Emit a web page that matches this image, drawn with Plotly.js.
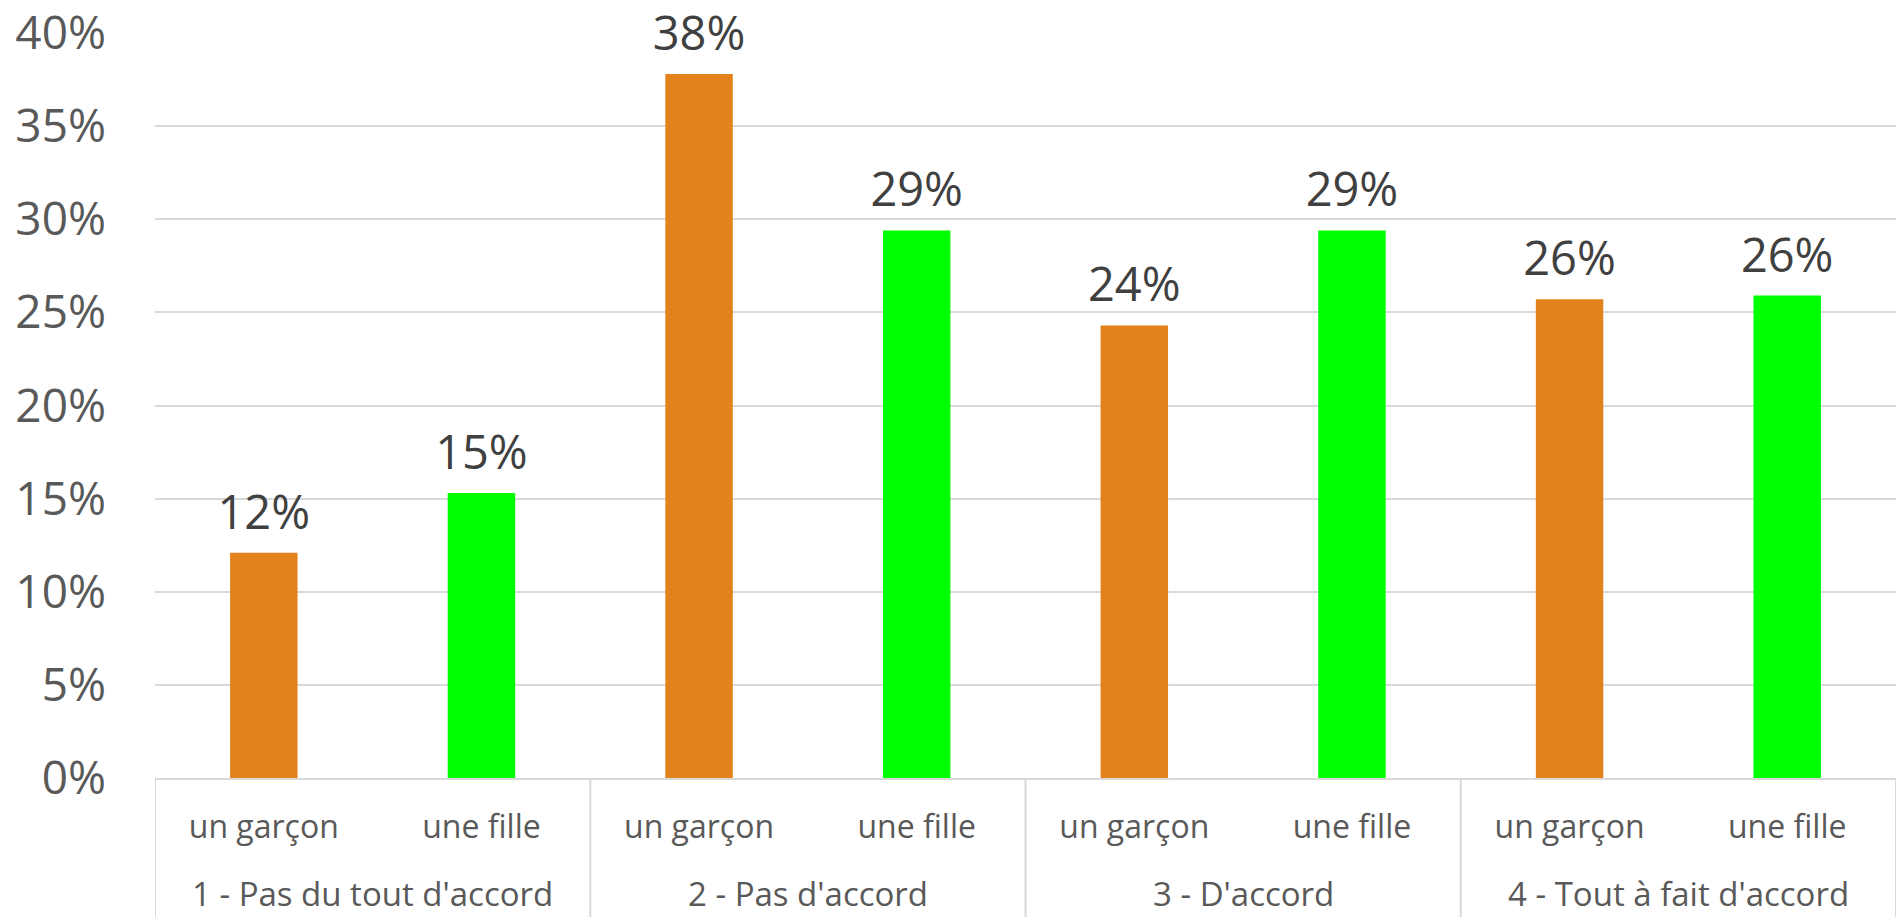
<!DOCTYPE html>
<html>
<head>
<meta charset="utf-8">
<script src="https://cdn.plot.ly/plotly-3.0.1.min.js"></script>
<style>
html,body{margin:0;padding:0;background:#fff;}
#chart{width:1896px;height:917px;}
</style>
</head>
<body>
<div id="chart"></div>
<script>
const groups = ["1 - Pas du tout d'accord", "2 - Pas d'accord", "3 - D'accord", "4 - Tout à fait d'accord"];
const genders = ["un garçon", "une fille"];
const garconValues = [0.121, 0.378, 0.243, 0.257];
const filleValues = [0.153, 0.294, 0.294, 0.259];
const garconColor = "#E3821A";
const filleColor = "#00FF00";

const xIdx = [], yVals = [], colors = [], tickText = [];
groups.forEach((g, i) => {
  xIdx.push(2 * i); yVals.push(garconValues[i]); colors.push(garconColor); tickText.push(genders[0]);
  xIdx.push(2 * i + 1); yVals.push(filleValues[i]); colors.push(filleColor); tickText.push(genders[1]);
});

const font = "'Open Sans', 'Noto Sans', sans-serif";
const H = 917, T = 33, B = 139;
const plotH = H - T - B;

const bars = {
  type: 'bar',
  x: xIdx,
  y: yVals,
  width: 0.31,
  marker: {color: colors, line: {width: 0}},
  hoverinfo: 'skip',
  showlegend: false
};

const labels = {
  type: 'scatter',
  mode: 'markers+text',
  x: xIdx,
  y: yVals,
  text: yVals.map(v => Math.round(v * 100) + '%'),
  textposition: 'top center',
  textfont: {family: font, size: 47, color: '#404040'},
  marker: {size: 18, opacity: 0, color: '#fff'},
  cliponaxis: false,
  hoverinfo: 'skip',
  showlegend: false
};

const annotations = groups.map((g, i) => ({
  x: 2 * i + 0.5, xref: 'x',
  y: 0, yref: 'paper', yanchor: 'middle', yshift: -115,
  text: g, showarrow: false, borderpad: 0,
  font: {family: font, size: 33, color: '#595959'}
}));

const shapes = [];
for (let i = 0; i <= groups.length; i++) {
  shapes.push({
    type: 'line', xref: 'x', yref: 'paper',
    x0: 2 * i - 0.5, x1: 2 * i - 0.5,
    y0: 0, y1: -B / plotH,
    line: {color: '#d9d9d9', width: 2}
  });
}

const layout = {
  width: 1896, height: H,
  margin: {l: 155, r: 0, t: T, b: B},
  paper_bgcolor: '#fff', plot_bgcolor: '#fff',
  font: {family: font, color: '#595959'},
  xaxis: {
    range: [-0.5, 2 * groups.length - 0.5],
    tickvals: xIdx, ticktext: tickText,
    showline: true, linecolor: '#d9d9d9', linewidth: 2,
    showgrid: false, zeroline: false, ticks: '',
    ticklabelstandoff: 20,
    tickfont: {family: font, size: 32, color: '#595959'}
  },
  yaxis: {
    range: [0, 0.4], dtick: 0.05, tickformat: '.0%',
    showgrid: true, gridcolor: '#d9d9d9', gridwidth: 2,
    zeroline: false, showline: false, ticks: '',
    ticklabelstandoff: 48,
    tickfont: {family: font, size: 46, color: '#595959'}
  },
  annotations: annotations,
  shapes: shapes
};

Plotly.newPlot('chart', [bars, labels], layout, {displayModeBar: false, staticPlot: true});
</script>
</body>
</html>
